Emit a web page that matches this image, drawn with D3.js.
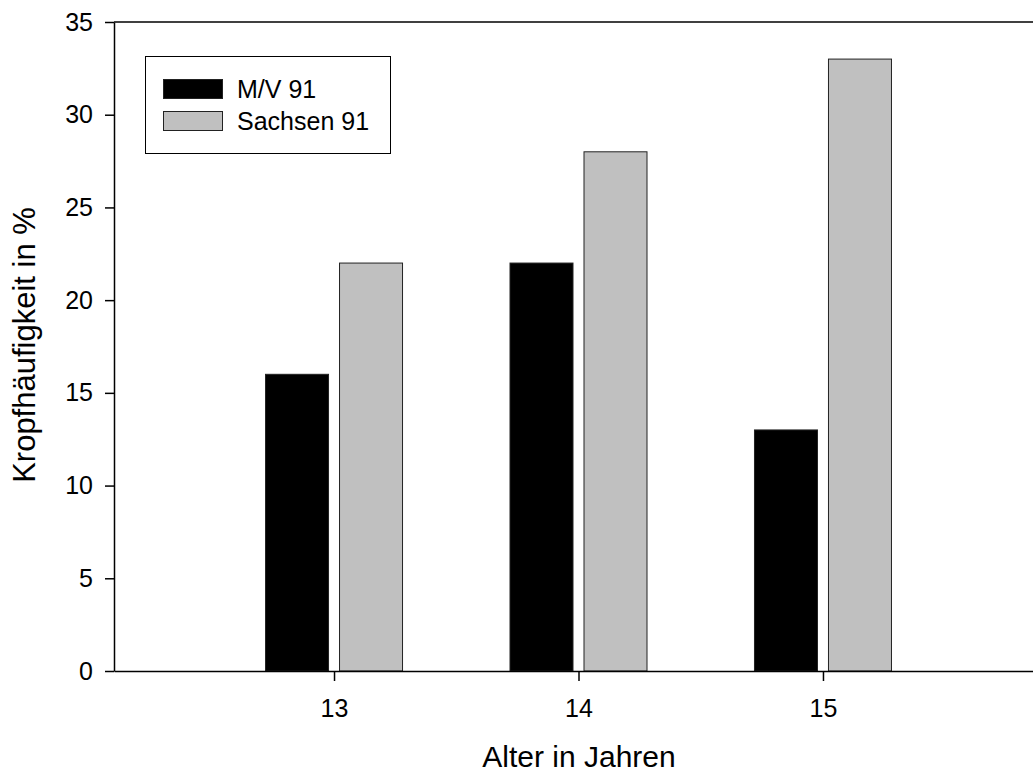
<!DOCTYPE html>
<html>
<head>
<meta charset="utf-8">
<script src="https://cdn.jsdelivr.net/npm/d3@7"></script>
<style>
  html, body { margin: 0; padding: 0; background: #fff; }
  svg { display: block; font-family: "Liberation Sans", Arial, sans-serif; }
</style>
</head>
<body>
<svg id="chart" width="1033" height="773"></svg>
<script>
// Age groups and goitre frequency (%) per region
const ages = [13, 14, 15];
const mvValues = [16, 22, 13];
const sachsenValues = [22, 28, 33];
const seriesNames = ["M/V 91", "Sachsen 91"];
const seriesColors = ["#000000", "#c0c0c0"];
const yTicks = [0, 5, 10, 15, 20, 25, 30, 35];

const svg = d3.select("#chart");
const plotLeft = 114, plotRight = 1043, plotTop = 22, plotBottom = 671;

const x = d3.scaleLinear().domain([12.1, 15.9]).range([plotLeft, plotRight]);
const y = d3.scaleLinear().domain([0, 35]).range([plotBottom, plotTop]);

const barW = 63, gap = 11;
const series = [mvValues, sachsenValues];

// Bars
series.forEach((vals, si) => {
  svg.append("g").selectAll("rect")
    .data(vals.map((v, i) => ({ age: ages[i], v })))
    .join("rect")
    .attr("x", d => si === 0 ? x(d.age) - gap / 2 - barW : x(d.age) + gap / 2)
    .attr("y", d => y(d.v))
    .attr("width", barW)
    .attr("height", d => y(0) - y(d.v))
    .attr("fill", seriesColors[si])
    .attr("stroke", "#222")
    .attr("stroke-width", 1);
});

// Y axis
const yAxis = svg.append("g")
  .attr("transform", `translate(${plotLeft},0)`)
  .call(d3.axisLeft(y).tickValues(yTicks).tickSizeInner(9).tickSizeOuter(0)
    .tickPadding(12).tickFormat(d3.format("d")));
yAxis.select(".domain").attr("stroke", "#000").attr("stroke-width", 1.5);
yAxis.selectAll(".tick line").attr("stroke", "#000").attr("stroke-width", 1.5);
yAxis.selectAll(".tick text").attr("font-size", 25).attr("fill", "#000")
  .attr("font-family", "Liberation Sans, Arial, sans-serif");

// X axis
const xAxis = svg.append("g")
  .attr("transform", `translate(0,${plotBottom})`)
  .call(d3.axisBottom(x).tickValues(ages).tickSizeInner(10).tickSizeOuter(0)
    .tickPadding(18).tickFormat(d3.format("d")));
xAxis.select(".domain").attr("stroke", "#000").attr("stroke-width", 1.5);
xAxis.selectAll(".tick line").attr("stroke", "#000").attr("stroke-width", 1.5);
xAxis.selectAll(".tick text").attr("font-size", 25).attr("fill", "#000")
  .attr("font-family", "Liberation Sans, Arial, sans-serif");

// Top frame line
svg.append("line")
  .attr("x1", plotLeft).attr("x2", plotRight)
  .attr("y1", plotTop).attr("y2", plotTop)
  .attr("stroke", "#000").attr("stroke-width", 1.5);

// Axis titles
svg.append("text")
  .attr("x", 579).attr("y", 767)
  .attr("text-anchor", "middle")
  .attr("font-size", 30)
  .text("Alter in Jahren");

svg.append("text")
  .attr("transform", `translate(35,345) rotate(-90)`)
  .attr("text-anchor", "middle")
  .attr("font-size", 31)
  .text("Kropfhäufigkeit in %");

// Legend
const legend = svg.append("g");
legend.append("rect")
  .attr("x", 145.5).attr("y", 56.5).attr("width", 245).attr("height", 97)
  .attr("fill", "#fff").attr("stroke", "#000").attr("stroke-width", 1);
seriesNames.forEach((name, i) => {
  const yy = 79 + i * 32;
  legend.append("rect")
    .attr("x", 163.5).attr("y", yy + 0.5).attr("width", 59).attr("height", 19)
    .attr("fill", seriesColors[i]).attr("stroke", "#222").attr("stroke-width", 1);
  legend.append("text")
    .attr("x", 237).attr("y", yy + 19)
    .attr("font-size", 25)
    .text(name);
});
</script>
</body>
</html>
